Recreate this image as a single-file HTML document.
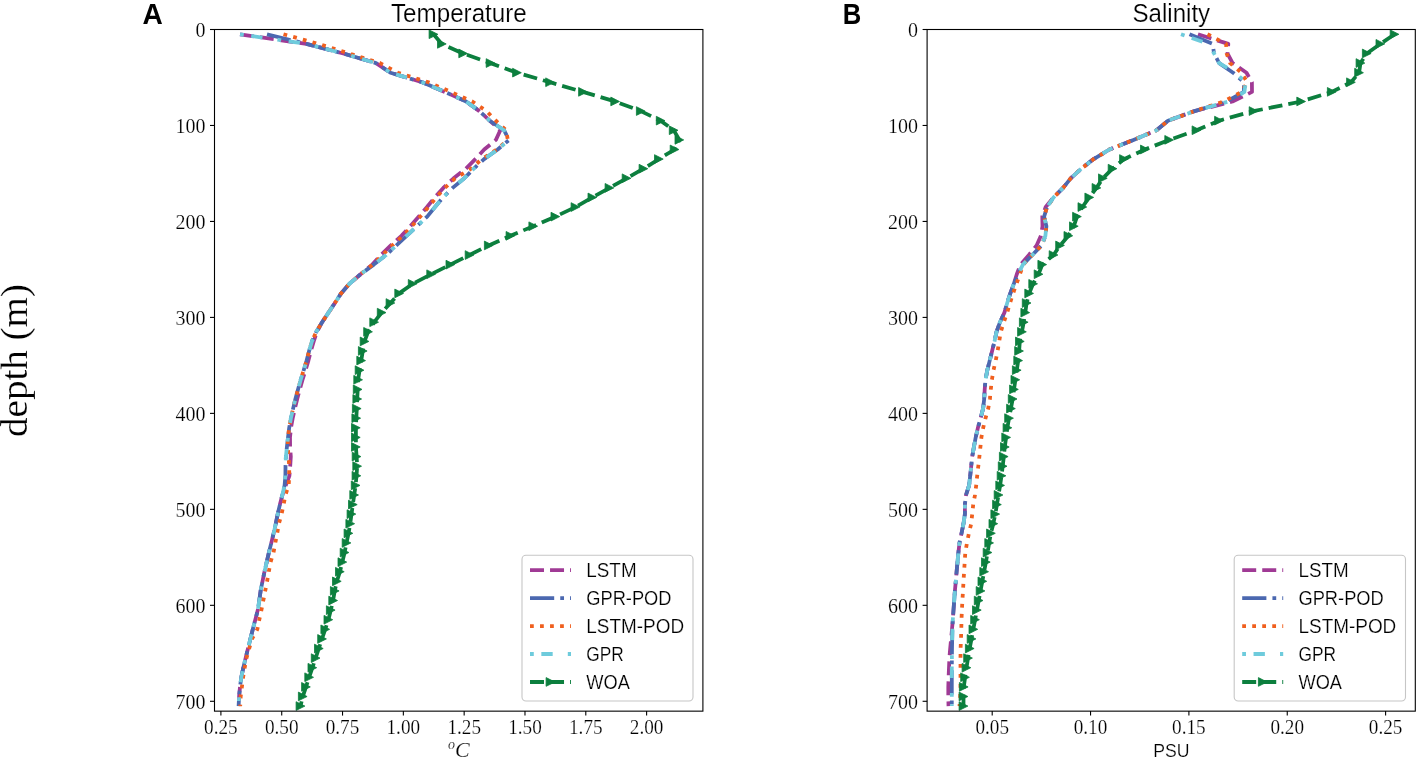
<!DOCTYPE html><html><head><meta charset="utf-8"><style>html,body{margin:0;padding:0;background:#fff;width:1417px;height:757px;overflow:hidden}svg{display:block;will-change:transform}</style></head><body>
<svg width="1417" height="757" viewBox="0 0 1417 757">
<style>text{stroke:#fff;stroke-width:0.2px;paint-order:normal}text.b{stroke:none}</style>
<rect width="1417" height="757" fill="#fff"/>
<defs><clipPath id="clipA"><rect x="214.5" y="29.5" width="488.4" height="681.6"/></clipPath>
<clipPath id="clipB"><rect x="927.1" y="29.5" width="488.2" height="681.6"/></clipPath></defs>
<text class="b" x="142.5" y="24.3" style="font-family:'Liberation Sans',sans-serif;font-size:29.0px;font-weight:bold" text-anchor="start" textLength="20.3" lengthAdjust="spacingAndGlyphs">A</text>
<text class="b" x="842.8" y="24.0" style="font-family:'Liberation Sans',sans-serif;font-size:29.0px;font-weight:bold" text-anchor="start" textLength="18.5" lengthAdjust="spacingAndGlyphs">B</text>
<text x="391.0" y="22.0" style="font-family:'Liberation Sans',sans-serif;font-size:25.5px" text-anchor="start" textLength="135.8" lengthAdjust="spacingAndGlyphs">Temperature</text>
<text x="1132.5" y="21.9" style="font-family:'Liberation Sans',sans-serif;font-size:25.5px" text-anchor="start" textLength="77.6" lengthAdjust="spacingAndGlyphs">Salinity</text>
<text transform="translate(27.4,437.0) rotate(-90)" style="font-family:'Liberation Serif',serif;font-size:38.5px" textLength="153" lengthAdjust="spacingAndGlyphs">depth (m)</text>
<line x1="210.0" y1="29.50" x2="214.5" y2="29.50" stroke="#000" stroke-width="1.1"/>
<text x="205.5" y="37.3" style="font-family:'Liberation Serif',serif;font-size:20.0px" text-anchor="end">0</text>
<line x1="210.0" y1="125.47" x2="214.5" y2="125.47" stroke="#000" stroke-width="1.1"/>
<text x="205.5" y="133.3" style="font-family:'Liberation Serif',serif;font-size:20.0px" text-anchor="end">100</text>
<line x1="210.0" y1="221.44" x2="214.5" y2="221.44" stroke="#000" stroke-width="1.1"/>
<text x="205.5" y="229.2" style="font-family:'Liberation Serif',serif;font-size:20.0px" text-anchor="end">200</text>
<line x1="210.0" y1="317.41" x2="214.5" y2="317.41" stroke="#000" stroke-width="1.1"/>
<text x="205.5" y="325.2" style="font-family:'Liberation Serif',serif;font-size:20.0px" text-anchor="end">300</text>
<line x1="210.0" y1="413.38" x2="214.5" y2="413.38" stroke="#000" stroke-width="1.1"/>
<text x="205.5" y="421.2" style="font-family:'Liberation Serif',serif;font-size:20.0px" text-anchor="end">400</text>
<line x1="210.0" y1="509.35" x2="214.5" y2="509.35" stroke="#000" stroke-width="1.1"/>
<text x="205.5" y="517.1" style="font-family:'Liberation Serif',serif;font-size:20.0px" text-anchor="end">500</text>
<line x1="210.0" y1="605.32" x2="214.5" y2="605.32" stroke="#000" stroke-width="1.1"/>
<text x="205.5" y="613.1" style="font-family:'Liberation Serif',serif;font-size:20.0px" text-anchor="end">600</text>
<line x1="210.0" y1="701.29" x2="214.5" y2="701.29" stroke="#000" stroke-width="1.1"/>
<text x="205.5" y="709.1" style="font-family:'Liberation Serif',serif;font-size:20.0px" text-anchor="end">700</text>
<line x1="220.90" y1="711.1" x2="220.90" y2="715.6" stroke="#000" stroke-width="1.1"/>
<text x="220.9" y="734.0" style="font-family:'Liberation Serif',serif;font-size:20.0px" text-anchor="middle" textLength="33.6" lengthAdjust="spacingAndGlyphs">0.25</text>
<line x1="281.72" y1="711.1" x2="281.72" y2="715.6" stroke="#000" stroke-width="1.1"/>
<text x="281.7" y="734.0" style="font-family:'Liberation Serif',serif;font-size:20.0px" text-anchor="middle" textLength="33.6" lengthAdjust="spacingAndGlyphs">0.50</text>
<line x1="342.53" y1="711.1" x2="342.53" y2="715.6" stroke="#000" stroke-width="1.1"/>
<text x="342.5" y="734.0" style="font-family:'Liberation Serif',serif;font-size:20.0px" text-anchor="middle" textLength="33.6" lengthAdjust="spacingAndGlyphs">0.75</text>
<line x1="403.35" y1="711.1" x2="403.35" y2="715.6" stroke="#000" stroke-width="1.1"/>
<text x="403.3" y="734.0" style="font-family:'Liberation Serif',serif;font-size:20.0px" text-anchor="middle" textLength="33.6" lengthAdjust="spacingAndGlyphs">1.00</text>
<line x1="464.16" y1="711.1" x2="464.16" y2="715.6" stroke="#000" stroke-width="1.1"/>
<text x="464.2" y="734.0" style="font-family:'Liberation Serif',serif;font-size:20.0px" text-anchor="middle" textLength="33.6" lengthAdjust="spacingAndGlyphs">1.25</text>
<line x1="524.98" y1="711.1" x2="524.98" y2="715.6" stroke="#000" stroke-width="1.1"/>
<text x="525.0" y="734.0" style="font-family:'Liberation Serif',serif;font-size:20.0px" text-anchor="middle" textLength="33.6" lengthAdjust="spacingAndGlyphs">1.50</text>
<line x1="585.79" y1="711.1" x2="585.79" y2="715.6" stroke="#000" stroke-width="1.1"/>
<text x="585.8" y="734.0" style="font-family:'Liberation Serif',serif;font-size:20.0px" text-anchor="middle" textLength="33.6" lengthAdjust="spacingAndGlyphs">1.75</text>
<line x1="646.61" y1="711.1" x2="646.61" y2="715.6" stroke="#000" stroke-width="1.1"/>
<text x="646.6" y="734.0" style="font-family:'Liberation Serif',serif;font-size:20.0px" text-anchor="middle" textLength="33.6" lengthAdjust="spacingAndGlyphs">2.00</text>
<line x1="922.6" y1="29.50" x2="927.1" y2="29.50" stroke="#000" stroke-width="1.1"/>
<text x="918.1" y="37.3" style="font-family:'Liberation Serif',serif;font-size:20.0px" text-anchor="end">0</text>
<line x1="922.6" y1="125.47" x2="927.1" y2="125.47" stroke="#000" stroke-width="1.1"/>
<text x="918.1" y="133.3" style="font-family:'Liberation Serif',serif;font-size:20.0px" text-anchor="end">100</text>
<line x1="922.6" y1="221.44" x2="927.1" y2="221.44" stroke="#000" stroke-width="1.1"/>
<text x="918.1" y="229.2" style="font-family:'Liberation Serif',serif;font-size:20.0px" text-anchor="end">200</text>
<line x1="922.6" y1="317.41" x2="927.1" y2="317.41" stroke="#000" stroke-width="1.1"/>
<text x="918.1" y="325.2" style="font-family:'Liberation Serif',serif;font-size:20.0px" text-anchor="end">300</text>
<line x1="922.6" y1="413.38" x2="927.1" y2="413.38" stroke="#000" stroke-width="1.1"/>
<text x="918.1" y="421.2" style="font-family:'Liberation Serif',serif;font-size:20.0px" text-anchor="end">400</text>
<line x1="922.6" y1="509.35" x2="927.1" y2="509.35" stroke="#000" stroke-width="1.1"/>
<text x="918.1" y="517.1" style="font-family:'Liberation Serif',serif;font-size:20.0px" text-anchor="end">500</text>
<line x1="922.6" y1="605.32" x2="927.1" y2="605.32" stroke="#000" stroke-width="1.1"/>
<text x="918.1" y="613.1" style="font-family:'Liberation Serif',serif;font-size:20.0px" text-anchor="end">600</text>
<line x1="922.6" y1="701.29" x2="927.1" y2="701.29" stroke="#000" stroke-width="1.1"/>
<text x="918.1" y="709.1" style="font-family:'Liberation Serif',serif;font-size:20.0px" text-anchor="end">700</text>
<line x1="992.20" y1="711.1" x2="992.20" y2="715.6" stroke="#000" stroke-width="1.1"/>
<text x="992.2" y="734.0" style="font-family:'Liberation Serif',serif;font-size:20.0px" text-anchor="middle" textLength="33.6" lengthAdjust="spacingAndGlyphs">0.05</text>
<line x1="1090.55" y1="711.1" x2="1090.55" y2="715.6" stroke="#000" stroke-width="1.1"/>
<text x="1090.5" y="734.0" style="font-family:'Liberation Serif',serif;font-size:20.0px" text-anchor="middle" textLength="33.6" lengthAdjust="spacingAndGlyphs">0.10</text>
<line x1="1188.90" y1="711.1" x2="1188.90" y2="715.6" stroke="#000" stroke-width="1.1"/>
<text x="1188.9" y="734.0" style="font-family:'Liberation Serif',serif;font-size:20.0px" text-anchor="middle" textLength="33.6" lengthAdjust="spacingAndGlyphs">0.15</text>
<line x1="1287.25" y1="711.1" x2="1287.25" y2="715.6" stroke="#000" stroke-width="1.1"/>
<text x="1287.2" y="734.0" style="font-family:'Liberation Serif',serif;font-size:20.0px" text-anchor="middle" textLength="33.6" lengthAdjust="spacingAndGlyphs">0.20</text>
<line x1="1385.60" y1="711.1" x2="1385.60" y2="715.6" stroke="#000" stroke-width="1.1"/>
<text x="1385.6" y="734.0" style="font-family:'Liberation Serif',serif;font-size:20.0px" text-anchor="middle" textLength="33.6" lengthAdjust="spacingAndGlyphs">0.25</text>
<polyline points="240.0,34.3 306.4,43.9 343.3,53.5 376.0,63.1 390.5,72.7 422.2,82.3 444.8,91.9 466.1,101.5 479.4,111.1 489.7,120.7 500.3,130.3 495.9,139.9 484.2,149.5 475.3,159.1 465.9,168.7 453.6,178.3 443.3,187.9 434.8,197.4 427.0,207.0 418.8,216.6 410.4,226.2 401.4,235.8 390.8,245.4 380.9,255.0 372.3,264.6 360.6,274.2 349.4,283.8 341.1,293.4 334.9,303.0 328.5,312.6 322.1,322.2 317.0,331.8 313.7,341.4 310.9,351.0 308.4,360.6 305.5,370.2 302.5,379.8 299.8,389.4 297.2,399.0 294.9,408.6 292.7,418.2 291.0,427.8 290.0,437.4 290.1,447.0 290.8,456.6 290.2,466.2 289.4,475.8 285.8,485.4 282.4,495.0 279.9,504.6 277.7,514.1 275.8,523.7 273.6,533.3 271.3,542.9 268.9,552.5 266.7,562.1 264.5,571.7 262.5,581.3 260.6,590.9 259.3,600.5 257.8,610.1 255.3,619.7 252.8,629.3 250.4,638.9 248.0,648.5 245.6,658.1 243.3,667.7 241.3,677.3 240.0,686.9 239.1,696.5 238.6,706.1" fill="none" stroke="#a03a95" stroke-width="3.78" stroke-dasharray="13.99,6.05" stroke-linejoin="round" clip-path="url(#clipA)"/>
<polyline points="267.0,34.3 306.4,43.9 343.3,53.5 376.0,63.1 390.5,72.7 422.2,82.3 444.8,91.9 466.1,101.5 479.4,111.1 489.7,120.7 504.1,130.3 509.1,139.9 497.7,149.5 484.1,159.1 473.7,168.7 464.3,178.3 452.6,187.9 443.0,197.4 435.0,207.0 427.2,216.6 417.0,226.2 406.6,235.8 396.4,245.4 386.1,255.0 373.8,264.6 360.6,274.2 349.4,283.8 341.1,293.4 334.9,303.0 328.5,312.6 322.1,322.2 316.3,331.8 311.9,341.4 309.1,351.0 306.6,360.6 303.7,370.2 300.7,379.8 298.0,389.4 295.4,399.0 293.1,408.6 290.9,418.2 289.2,427.8 288.0,437.4 286.9,447.0 285.9,456.6 285.5,466.2 285.4,475.8 284.6,485.4 282.3,495.0 279.9,504.6 277.7,514.1 275.8,523.7 273.6,533.3 271.3,542.9 268.9,552.5 266.7,562.1 264.5,571.7 262.5,581.3 260.6,590.9 259.3,600.5 257.8,610.1 255.3,619.7 252.8,629.3 250.4,638.9 248.0,648.5 245.6,658.1 243.3,667.7 241.3,677.3 240.0,686.9 239.1,696.5 238.6,706.1" fill="none" stroke="#4b68b0" stroke-width="3.78" stroke-dasharray="24.19,6.05,3.78,6.05" stroke-linejoin="round" clip-path="url(#clipA)"/>
<polyline points="283.5,34.3 318.7,43.9 349.3,53.5 380.1,63.1 397.8,72.7 428.6,82.3 450.8,91.9 472.3,101.5 486.6,111.1 495.9,120.7 506.1,130.3 507.8,139.9 496.8,149.5 481.7,159.1 471.1,168.7 455.1,178.3 444.8,187.9 436.3,197.4 428.5,207.0 420.3,216.6 411.9,226.2 402.9,235.8 392.3,245.4 382.4,255.0 372.6,264.6 360.6,274.2 349.4,283.8 341.1,293.4 334.9,303.0 328.5,312.6 322.1,322.2 316.3,331.8 311.9,341.4 309.1,351.0 306.6,360.6 303.7,370.2 300.7,379.8 298.0,389.4 295.4,399.0 293.1,408.6 290.9,418.2 289.2,427.8 288.0,437.4 287.7,447.0 288.6,456.6 289.2,466.2 289.2,475.8 288.7,485.4 285.4,495.0 283.6,504.6 281.6,514.1 278.9,523.7 277.2,533.3 275.3,542.9 273.5,552.5 270.6,562.1 268.8,571.7 267.1,581.3 265.2,590.9 263.3,600.5 261.4,610.1 259.3,619.7 257.3,629.3 252.0,638.9 249.2,648.5 246.5,658.1 244.7,667.7 243.1,677.3 241.9,686.9 240.7,696.5 240.2,706.1" fill="none" stroke="#f05f1e" stroke-width="3.78" stroke-dasharray="3.78,6.24" stroke-linejoin="round" clip-path="url(#clipA)"/>
<polyline points="240.0,34.3 306.4,43.9 343.3,53.5 376.0,63.1 390.5,72.7 422.2,82.3 444.8,91.9 466.1,101.5 479.4,111.1 489.7,120.7 504.1,130.3 509.1,139.9 497.7,149.5 484.1,159.1 473.7,168.7 464.3,178.3 452.6,187.9 443.0,197.4 435.0,207.0 427.2,216.6 417.0,226.2 406.6,235.8 396.4,245.4 386.1,255.0 373.8,264.6 360.6,274.2 349.4,283.8 341.1,293.4 334.9,303.0 328.5,312.6 322.1,322.2 316.3,331.8 311.9,341.4 309.1,351.0 306.6,360.6 303.7,370.2 300.7,379.8 298.0,389.4 295.4,399.0 293.1,408.6 290.9,418.2 289.2,427.8 288.0,437.4 286.9,447.0 285.9,456.6 285.5,466.2 285.4,475.8 284.6,485.4 282.3,495.0 279.9,504.6 277.7,514.1 275.8,523.7 273.6,533.3 271.3,542.9 268.9,552.5 266.7,562.1 264.5,571.7 262.5,581.3 260.6,590.9 259.3,600.5 257.8,610.1 255.3,619.7 252.8,629.3 250.4,638.9 248.0,648.5 245.6,658.1 243.3,667.7 241.3,677.3 240.0,686.9 239.1,696.5 238.6,706.1" fill="none" stroke="#6ecbdc" stroke-width="3.78" stroke-dasharray="3.78,7.56,11.34,15.12" stroke-linejoin="round" clip-path="url(#clipA)"/>
<polyline points="433.5,34.3 441.8,43.9 463.1,53.5 490.5,63.1 516.9,72.7 550.0,82.3 582.9,91.9 615.2,101.5 640.8,111.1 660.6,120.7 673.7,130.3 679.4,139.9 674.6,149.5 658.9,159.1 643.5,168.7 626.6,178.3 609.5,187.9 592.4,197.4 575.5,207.0 555.3,216.6 533.3,226.2 510.4,235.8 488.7,245.4 469.5,255.0 450.3,264.6 431.2,274.2 412.7,283.8 399.1,293.4 390.5,303.0 381.7,312.6 374.1,322.2 368.1,331.8 364.5,341.4 362.8,351.0 361.2,360.6 359.6,370.2 358.1,379.8 357.7,389.4 357.2,399.0 356.8,408.6 356.3,418.2 355.9,427.8 355.9,437.4 355.9,447.0 356.6,456.6 357.2,466.2 356.5,475.8 355.6,485.4 354.2,495.0 352.8,504.6 351.5,514.1 350.2,523.7 348.5,533.3 346.5,542.9 344.6,552.5 342.3,562.1 339.9,571.7 336.9,581.3 334.7,590.9 333.1,600.5 330.8,610.1 328.4,619.7 325.2,629.3 322.0,638.9 318.8,648.5 315.6,658.1 312.4,667.7 309.1,677.3 306.0,686.9 302.8,696.5 300.5,706.1" fill="none" stroke="#0c7f3e" stroke-width="3.78" stroke-dasharray="13.99,6.05" stroke-linejoin="round" clip-path="url(#clipA)"/>
<path d="M429.1,29.9L437.9,34.3L429.1,38.6ZM437.5,39.5L446.2,43.9L437.5,48.2ZM458.8,49.1L467.5,53.5L458.8,57.8ZM486.2,58.7L494.9,63.1L486.2,67.4ZM512.6,68.3L521.3,72.7L512.6,77.0ZM545.7,77.9L554.4,82.3L545.7,86.6ZM578.6,87.5L587.3,91.9L578.6,96.2ZM610.8,97.1L619.5,101.5L610.8,105.8ZM636.4,106.7L645.1,111.1L636.4,115.4ZM656.3,116.3L665.0,120.7L656.3,125.0ZM669.3,125.9L678.0,130.3L669.3,134.6ZM675.0,135.5L683.7,139.9L675.0,144.2ZM670.2,145.1L678.9,149.5L670.2,153.8ZM654.5,154.7L663.2,159.1L654.5,163.4ZM639.1,164.3L647.8,168.7L639.1,173.0ZM622.2,173.9L630.9,178.3L622.2,182.6ZM605.1,183.5L613.8,187.9L605.1,192.2ZM588.0,193.1L596.7,197.4L588.0,201.8ZM571.1,202.7L579.8,207.0L571.1,211.4ZM551.0,212.3L559.7,216.6L551.0,221.0ZM528.9,221.9L537.6,226.2L528.9,230.6ZM506.1,231.5L514.8,235.8L506.1,240.2ZM484.4,241.1L493.1,245.4L484.4,249.8ZM465.2,250.7L473.9,255.0L465.2,259.4ZM446.0,260.3L454.7,264.6L446.0,269.0ZM426.8,269.9L435.5,274.2L426.8,278.6ZM408.3,279.5L417.0,283.8L408.3,288.2ZM394.8,289.1L403.5,293.4L394.8,297.8ZM386.1,298.7L394.8,303.0L386.1,307.4ZM377.3,308.3L386.0,312.6L377.3,317.0ZM369.8,317.9L378.5,322.2L369.8,326.6ZM363.7,327.5L372.4,331.8L363.7,336.2ZM360.2,337.1L368.9,341.4L360.2,345.8ZM358.4,346.6L367.1,351.0L358.4,355.3ZM356.8,356.2L365.5,360.6L356.8,364.9ZM355.2,365.8L363.9,370.2L355.2,374.5ZM353.8,375.4L362.5,379.8L353.8,384.1ZM353.3,385.0L362.0,389.4L353.3,393.7ZM352.9,394.6L361.6,399.0L352.9,403.3ZM352.4,404.2L361.1,408.6L352.4,412.9ZM351.9,413.8L360.6,418.2L351.9,422.5ZM351.5,423.4L360.2,427.8L351.5,432.1ZM351.5,433.0L360.2,437.4L351.5,441.7ZM351.5,442.6L360.2,447.0L351.5,451.3ZM352.2,452.2L360.9,456.6L352.2,460.9ZM352.8,461.8L361.5,466.2L352.8,470.5ZM352.1,471.4L360.8,475.8L352.1,480.1ZM351.3,481.0L360.0,485.4L351.3,489.7ZM349.8,490.6L358.5,495.0L349.8,499.3ZM348.5,500.2L357.2,504.6L348.5,508.9ZM347.1,509.8L355.8,514.1L347.1,518.5ZM345.9,519.4L354.6,523.7L345.9,528.1ZM344.1,529.0L352.8,533.3L344.1,537.7ZM342.2,538.6L350.9,542.9L342.2,547.3ZM340.2,548.2L348.9,552.5L340.2,556.9ZM338.0,557.8L346.7,562.1L338.0,566.5ZM335.5,567.4L344.2,571.7L335.5,576.1ZM332.5,577.0L341.2,581.3L332.5,585.7ZM330.4,586.6L339.1,590.9L330.4,595.3ZM328.8,596.2L337.5,600.5L328.8,604.9ZM326.4,605.8L335.1,610.1L326.4,614.5ZM324.0,615.4L332.7,619.7L324.0,624.1ZM320.9,625.0L329.6,629.3L320.9,633.7ZM317.7,634.6L326.4,638.9L317.7,643.3ZM314.5,644.2L323.2,648.5L314.5,652.9ZM311.3,653.8L320.0,658.1L311.3,662.5ZM308.0,663.4L316.7,667.7L308.0,672.1ZM304.8,672.9L313.5,677.3L304.8,681.6ZM301.6,682.5L310.3,686.9L301.6,691.2ZM298.4,692.1L307.1,696.5L298.4,700.8ZM296.1,701.7L304.9,706.1L296.1,710.4Z" fill="#0c7f3e" stroke="#0c7f3e" stroke-width="0.8" stroke-linejoin="miter" clip-path="url(#clipA)"/>
<polyline points="1198.0,34.3 1228.3,43.9 1227.5,53.5 1232.6,63.1 1246.5,72.7 1251.9,82.3 1252.0,91.9 1232.5,101.5 1194.5,111.1 1168.0,120.7 1156.5,130.3 1133.5,139.9 1109.4,149.5 1093.6,159.1 1081.3,168.7 1070.7,178.3 1063.1,187.9 1053.6,197.4 1045.7,207.0 1042.3,216.6 1042.5,226.2 1040.9,235.8 1036.6,245.4 1028.9,255.0 1020.5,264.6 1016.8,274.2 1013.8,283.8 1010.3,293.4 1007.2,303.0 1004.4,312.6 1000.0,322.2 996.5,331.8 994.5,341.4 992.1,351.0 989.7,360.6 987.3,370.2 985.5,379.8 984.7,389.4 984.2,399.0 983.1,408.6 980.6,418.2 977.9,427.8 975.7,437.4 973.9,447.0 972.2,456.6 971.2,466.2 970.2,475.8 969.1,485.4 966.0,495.0 964.9,504.6 964.9,514.1 963.5,523.7 961.5,533.3 959.5,542.9 958.4,552.5 957.5,562.1 956.6,571.7 955.8,581.3 954.9,590.9 954.2,600.5 953.5,610.1 952.8,619.7 952.0,629.3 951.1,638.9 950.2,648.5 949.4,658.1 949.0,667.7 948.6,677.3 948.3,686.9 948.3,696.5 948.5,706.1" fill="none" stroke="#a03a95" stroke-width="3.78" stroke-dasharray="13.99,6.05" stroke-linejoin="round" clip-path="url(#clipB)"/>
<polyline points="1189.5,34.3 1212.7,43.9 1214.0,53.5 1219.2,63.1 1233.1,72.7 1244.1,82.3 1243.8,91.9 1226.7,101.5 1194.5,111.1 1168.0,120.7 1156.5,130.3 1133.5,139.9 1109.4,149.5 1093.6,159.1 1081.3,168.7 1070.7,178.3 1063.1,187.9 1053.6,197.4 1047.1,207.0 1044.1,216.6 1046.4,226.2 1045.4,235.8 1041.6,245.4 1032.3,255.0 1022.9,264.6 1018.0,274.2 1013.8,283.8 1010.3,293.4 1007.2,303.0 1004.4,312.6 1000.0,322.2 996.5,331.8 994.5,341.4 992.1,351.0 989.7,360.6 987.3,370.2 985.5,379.8 984.7,389.4 984.2,399.0 983.1,408.6 980.6,418.2 977.9,427.8 975.7,437.4 973.9,447.0 972.2,456.6 971.2,466.2 970.2,475.8 969.1,485.4 966.0,495.0 964.9,504.6 964.9,514.1 963.5,523.7 961.5,533.3 959.5,542.9 958.4,552.5 957.5,562.1 956.6,571.7 955.8,581.3 954.9,590.9 954.2,600.5 953.5,610.1 952.8,619.7 952.4,629.3 952.2,638.9 952.0,648.5 951.9,658.1 951.8,667.7 951.8,677.3 951.8,686.9 951.8,696.5 951.8,706.1" fill="none" stroke="#4b68b0" stroke-width="3.78" stroke-dasharray="24.19,6.05,3.78,6.05" stroke-linejoin="round" clip-path="url(#clipB)"/>
<polyline points="1207.5,34.3 1226.1,43.9 1226.7,53.5 1230.1,63.1 1241.5,72.7 1247.2,82.3 1241.9,91.9 1223.5,101.5 1194.5,111.1 1168.0,120.7 1156.5,130.3 1133.5,139.9 1109.4,149.5 1093.6,159.1 1081.3,168.7 1070.7,178.3 1063.1,187.9 1053.6,197.4 1047.1,207.0 1044.1,216.6 1046.4,226.2 1045.4,235.8 1041.6,245.4 1032.2,255.0 1023.3,264.6 1019.9,274.2 1016.5,283.8 1013.1,293.4 1010.0,303.0 1007.2,312.6 1003.8,322.2 1000.8,331.8 999.2,341.4 997.6,351.0 995.7,360.6 993.5,370.2 991.9,379.8 990.8,389.4 989.9,399.0 988.2,408.6 985.5,418.2 983.2,427.8 981.4,437.4 980.4,447.0 979.4,456.6 978.3,466.2 977.2,475.8 976.2,485.4 975.0,495.0 973.2,504.6 972.2,514.1 971.2,523.7 968.9,533.3 967.0,542.9 965.3,552.5 964.7,562.1 964.1,571.7 963.5,581.3 963.0,590.9 962.4,600.5 961.9,610.1 961.5,619.7 961.3,629.3 961.0,638.9 960.6,648.5 960.5,658.1 960.5,667.7 960.5,677.3 960.5,686.9 960.2,696.5 959.5,706.1" fill="none" stroke="#f05f1e" stroke-width="3.78" stroke-dasharray="3.78,6.24" stroke-linejoin="round" clip-path="url(#clipB)"/>
<polyline points="1181.0,34.3 1208.3,43.9 1214.1,53.5 1219.1,63.1 1235.4,72.7 1245.6,82.3 1244.4,91.9 1228.4,101.5 1194.5,111.1 1168.0,120.7 1156.5,130.3 1133.5,139.9 1109.4,149.5 1093.6,159.1 1081.3,168.7 1070.7,178.3 1063.1,187.9 1053.6,197.4 1047.1,207.0 1044.1,216.6 1046.4,226.2 1045.4,235.8 1041.6,245.4 1032.3,255.0 1022.9,264.6 1018.0,274.2 1013.8,283.8 1010.3,293.4 1007.2,303.0 1004.4,312.6 1000.0,322.2 996.5,331.8 994.5,341.4 992.1,351.0 989.7,360.6 987.3,370.2 985.5,379.8 984.7,389.4 984.2,399.0 983.1,408.6 980.6,418.2 977.9,427.8 975.7,437.4 973.9,447.0 972.2,456.6 971.2,466.2 970.2,475.8 969.1,485.4 966.0,495.0 964.9,504.6 964.9,514.1 963.5,523.7 961.5,533.3 959.5,542.9 958.4,552.5 957.5,562.1 956.6,571.7 955.8,581.3 954.9,590.9 954.2,600.5 953.5,610.1 952.8,619.7 952.4,629.3 952.2,638.9 952.0,648.5 951.9,658.1 951.8,667.7 951.8,677.3 951.8,686.9 951.8,696.5 951.8,706.1" fill="none" stroke="#6ecbdc" stroke-width="3.78" stroke-dasharray="3.78,7.56,11.34,15.12" stroke-linejoin="round" clip-path="url(#clipB)"/>
<polyline points="1394.6,34.3 1380.4,43.9 1366.8,53.5 1360.5,63.1 1359.1,72.7 1351.0,82.3 1331.8,91.9 1301.1,101.5 1253.5,111.1 1218.9,120.7 1196.4,130.3 1169.2,139.9 1144.9,149.5 1124.0,159.1 1112.5,168.7 1102.8,178.3 1096.5,187.9 1089.3,197.4 1082.4,207.0 1077.0,216.6 1073.8,226.2 1068.4,235.8 1060.1,245.4 1053.5,255.0 1042.3,264.6 1038.5,274.2 1033.1,283.8 1029.2,293.4 1026.6,303.0 1025.3,312.6 1023.7,322.2 1021.9,331.8 1019.8,341.4 1019.1,351.0 1018.2,360.6 1016.8,370.2 1015.4,379.8 1014.0,389.4 1012.7,399.0 1010.9,408.6 1009.0,418.2 1007.4,427.8 1006.1,437.4 1004.8,447.0 1003.8,456.6 1002.7,466.2 1001.5,475.8 1000.1,485.4 998.5,495.0 996.9,504.6 995.3,514.1 993.3,523.7 990.9,533.3 989.1,542.9 987.6,552.5 985.9,562.1 984.1,571.7 982.3,581.3 980.5,590.9 978.7,600.5 976.9,610.1 975.1,619.7 973.3,629.3 971.5,638.9 969.7,648.5 968.0,658.1 966.5,667.7 965.1,677.3 963.8,686.9 963.5,696.5 963.5,706.1" fill="none" stroke="#0c7f3e" stroke-width="3.78" stroke-dasharray="13.99,6.05" stroke-linejoin="round" clip-path="url(#clipB)"/>
<path d="M1390.2,29.9L1398.9,34.3L1390.2,38.6ZM1376.0,39.5L1384.7,43.9L1376.0,48.2ZM1362.4,49.1L1371.1,53.5L1362.4,57.8ZM1356.1,58.7L1364.8,63.1L1356.1,67.4ZM1354.7,68.3L1363.4,72.7L1354.7,77.0ZM1346.6,77.9L1355.3,82.3L1346.6,86.6ZM1327.4,87.5L1336.1,91.9L1327.4,96.2ZM1296.8,97.1L1305.5,101.5L1296.8,105.8ZM1249.2,106.7L1257.9,111.1L1249.2,115.4ZM1214.6,116.3L1223.3,120.7L1214.6,125.0ZM1192.1,125.9L1200.8,130.3L1192.1,134.6ZM1164.8,135.5L1173.5,139.9L1164.8,144.2ZM1140.5,145.1L1149.2,149.5L1140.5,153.8ZM1119.6,154.7L1128.3,159.1L1119.6,163.4ZM1108.2,164.3L1116.9,168.7L1108.2,173.0ZM1098.5,173.9L1107.2,178.3L1098.5,182.6ZM1092.1,183.5L1100.8,187.9L1092.1,192.2ZM1084.9,193.1L1093.6,197.4L1084.9,201.8ZM1078.0,202.7L1086.7,207.0L1078.0,211.4ZM1072.6,212.3L1081.3,216.6L1072.6,221.0ZM1069.5,221.9L1078.2,226.2L1069.5,230.6ZM1064.0,231.5L1072.7,235.8L1064.0,240.2ZM1055.7,241.1L1064.4,245.4L1055.7,249.8ZM1049.2,250.7L1057.9,255.0L1049.2,259.4ZM1037.9,260.3L1046.6,264.6L1037.9,269.0ZM1034.2,269.9L1042.9,274.2L1034.2,278.6ZM1028.8,279.5L1037.5,283.8L1028.8,288.2ZM1024.8,289.1L1033.5,293.4L1024.8,297.8ZM1022.3,298.7L1031.0,303.0L1022.3,307.4ZM1020.9,308.3L1029.6,312.6L1020.9,317.0ZM1019.4,317.9L1028.1,322.2L1019.4,326.6ZM1017.6,327.5L1026.3,331.8L1017.6,336.2ZM1015.5,337.1L1024.2,341.4L1015.5,345.8ZM1014.7,346.6L1023.4,351.0L1014.7,355.3ZM1013.8,356.2L1022.5,360.6L1013.8,364.9ZM1012.4,365.8L1021.1,370.2L1012.4,374.5ZM1011.0,375.4L1019.7,379.8L1011.0,384.1ZM1009.6,385.0L1018.3,389.4L1009.6,393.7ZM1008.3,394.6L1017.0,399.0L1008.3,403.3ZM1006.6,404.2L1015.3,408.6L1006.6,412.9ZM1004.7,413.8L1013.4,418.2L1004.7,422.5ZM1003.1,423.4L1011.8,427.8L1003.1,432.1ZM1001.8,433.0L1010.5,437.4L1001.8,441.7ZM1000.5,442.6L1009.2,447.0L1000.5,451.3ZM999.4,452.2L1008.1,456.6L999.4,460.9ZM998.3,461.8L1007.0,466.2L998.3,470.5ZM997.2,471.4L1005.9,475.8L997.2,480.1ZM995.8,481.0L1004.5,485.4L995.8,489.7ZM994.2,490.6L1002.9,495.0L994.2,499.3ZM992.6,500.2L1001.3,504.6L992.6,508.9ZM990.9,509.8L999.6,514.1L990.9,518.5ZM989.0,519.4L997.7,523.7L989.0,528.1ZM986.6,529.0L995.3,533.3L986.6,537.7ZM984.8,538.6L993.5,542.9L984.8,547.3ZM983.2,548.2L991.9,552.5L983.2,556.9ZM981.5,557.8L990.2,562.1L981.5,566.5ZM979.8,567.4L988.5,571.7L979.8,576.1ZM978.0,577.0L986.7,581.3L978.0,585.7ZM976.2,586.6L984.9,590.9L976.2,595.3ZM974.3,596.2L983.0,600.5L974.3,604.9ZM972.5,605.8L981.2,610.1L972.5,614.5ZM970.7,615.4L979.4,619.7L970.7,624.1ZM969.0,625.0L977.7,629.3L969.0,633.7ZM967.2,634.6L975.9,638.9L967.2,643.3ZM965.4,644.2L974.1,648.5L965.4,652.9ZM963.7,653.8L972.4,658.1L963.7,662.5ZM962.1,663.4L970.8,667.7L962.1,672.1ZM960.7,672.9L969.4,677.3L960.7,681.6ZM959.4,682.5L968.1,686.9L959.4,691.2ZM959.1,692.1L967.9,696.5L959.1,700.8ZM959.1,701.7L967.9,706.1L959.1,710.4Z" fill="#0c7f3e" stroke="#0c7f3e" stroke-width="0.8" stroke-linejoin="miter" clip-path="url(#clipB)"/>
<rect x="214.50" y="29.50" width="488.40" height="681.65" fill="none" stroke="#000" stroke-width="1.1"/>
<rect x="927.10" y="29.50" width="488.20" height="681.65" fill="none" stroke="#000" stroke-width="1.1"/>
<text x="448.0" y="749.3" style="font-family:'Liberation Serif',serif;font-size:14px;font-style:italic">o</text>
<text x="455.0" y="756.6" style="font-family:'Liberation Serif',serif;font-size:22px;font-style:italic">C</text>
<text x="1153.2" y="756.5" style="font-family:'Liberation Sans',sans-serif;font-size:19.0px" text-anchor="start" textLength="36.3" lengthAdjust="spacingAndGlyphs">PSU</text>
<rect x="522.0" y="555.2" width="171.0" height="145.8" rx="4" ry="4" fill="#fff" fill-opacity="0.8" stroke="#c6c6c6" stroke-width="1.1"/>
<line x1="530.0" y1="570.2" x2="571.0" y2="570.2" stroke="#a03a95" stroke-width="3.78" stroke-dasharray="13.99,6.05"/>
<text x="586.3" y="577.4" style="font-family:'Liberation Sans',sans-serif;font-size:19.5px" text-anchor="start" textLength="50.3" lengthAdjust="spacingAndGlyphs">LSTM</text>
<line x1="530.0" y1="598.1" x2="571.0" y2="598.1" stroke="#4b68b0" stroke-width="3.78" stroke-dasharray="24.19,6.05,3.78,6.05"/>
<text x="586.3" y="605.3" style="font-family:'Liberation Sans',sans-serif;font-size:19.5px" text-anchor="start" textLength="85.2" lengthAdjust="spacingAndGlyphs">GPR-POD</text>
<line x1="530.0" y1="626.1" x2="571.0" y2="626.1" stroke="#f05f1e" stroke-width="3.78" stroke-dasharray="3.78,6.24"/>
<text x="586.3" y="633.3" style="font-family:'Liberation Sans',sans-serif;font-size:19.5px" text-anchor="start" textLength="97.8" lengthAdjust="spacingAndGlyphs">LSTM-POD</text>
<line x1="530.0" y1="654.0" x2="571.0" y2="654.0" stroke="#6ecbdc" stroke-width="3.78" stroke-dasharray="3.78,7.56,11.34,15.12"/>
<text x="586.3" y="661.2" style="font-family:'Liberation Sans',sans-serif;font-size:19.5px" text-anchor="start" textLength="37.5" lengthAdjust="spacingAndGlyphs">GPR</text>
<line x1="530.0" y1="682.0" x2="571.0" y2="682.0" stroke="#0c7f3e" stroke-width="3.78" stroke-dasharray="13.99,6.05"/>
<path d="M546.1,677.6L554.9,682.0L546.1,686.3Z" fill="#0c7f3e" stroke="#0c7f3e" stroke-width="0.8"/>
<text x="586.3" y="689.2" style="font-family:'Liberation Sans',sans-serif;font-size:19.5px" text-anchor="start" textLength="43.5" lengthAdjust="spacingAndGlyphs">WOA</text>
<rect x="1234.2" y="555.2" width="171.3" height="145.8" rx="4" ry="4" fill="#fff" fill-opacity="0.8" stroke="#c6c6c6" stroke-width="1.1"/>
<line x1="1242.2" y1="570.2" x2="1283.2" y2="570.2" stroke="#a03a95" stroke-width="3.78" stroke-dasharray="13.99,6.05"/>
<text x="1298.5" y="577.4" style="font-family:'Liberation Sans',sans-serif;font-size:19.5px" text-anchor="start" textLength="50.3" lengthAdjust="spacingAndGlyphs">LSTM</text>
<line x1="1242.2" y1="598.1" x2="1283.2" y2="598.1" stroke="#4b68b0" stroke-width="3.78" stroke-dasharray="24.19,6.05,3.78,6.05"/>
<text x="1298.5" y="605.3" style="font-family:'Liberation Sans',sans-serif;font-size:19.5px" text-anchor="start" textLength="85.2" lengthAdjust="spacingAndGlyphs">GPR-POD</text>
<line x1="1242.2" y1="626.1" x2="1283.2" y2="626.1" stroke="#f05f1e" stroke-width="3.78" stroke-dasharray="3.78,6.24"/>
<text x="1298.5" y="633.3" style="font-family:'Liberation Sans',sans-serif;font-size:19.5px" text-anchor="start" textLength="97.8" lengthAdjust="spacingAndGlyphs">LSTM-POD</text>
<line x1="1242.2" y1="654.0" x2="1283.2" y2="654.0" stroke="#6ecbdc" stroke-width="3.78" stroke-dasharray="3.78,7.56,11.34,15.12"/>
<text x="1298.5" y="661.2" style="font-family:'Liberation Sans',sans-serif;font-size:19.5px" text-anchor="start" textLength="37.5" lengthAdjust="spacingAndGlyphs">GPR</text>
<line x1="1242.2" y1="682.0" x2="1283.2" y2="682.0" stroke="#0c7f3e" stroke-width="3.78" stroke-dasharray="13.99,6.05"/>
<path d="M1258.4,677.6L1267.0,682.0L1258.4,686.3Z" fill="#0c7f3e" stroke="#0c7f3e" stroke-width="0.8"/>
<text x="1298.5" y="689.2" style="font-family:'Liberation Sans',sans-serif;font-size:19.5px" text-anchor="start" textLength="43.5" lengthAdjust="spacingAndGlyphs">WOA</text>
</svg></body></html>
